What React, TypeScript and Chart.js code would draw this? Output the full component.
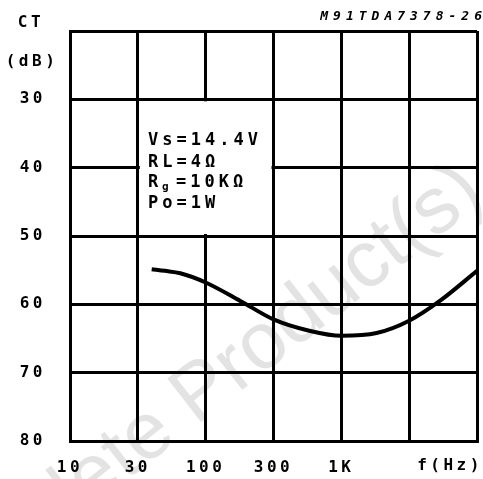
import React, { useEffect, useRef } from 'react';
import { Chart, registerables } from 'chart.js';

Chart.register(...registerables);

// Crosstalk vs frequency curve
const freqHz = [40, 50, 65, 100, 180, 316, 590, 1000, 1820, 3162, 5320, 10000];
const crosstalkDb = [54.85, 55.1, 55.45, 56.8, 59.5, 62.2, 63.9, 64.6, 64.2, 62.4, 59.5, 55.1];

// Axis ticks
const xTickValues = [10, 31.62, 100, 316.2, 1000, 3162, 10000];
const xTickLabels = ['10', '30', '100', '300', '1K', '', ''];
const yTickValues = [20, 30, 40, 50, 60, 70, 80];
const yTickLabels = ['', '30', '40', '50', '60', '70', '80'];

// Texts
const chartCode = 'M91TDA7378-26';
const yTitleLines = ['CT', '(dB)'];
const xTitle = 'f(Hz)';
const conditionLines = ['Vs=14.4V', 'RL=4Ω', 'R|g|=10KΩ', 'Po=1W'];
const watermark = ['Obsolete ', 'Product(s)'];

const MONO = '"DejaVu Sans Mono", monospace';

const overlayPlugin = {
  id: 'overlay',
  beforeDraw(chart: any) {
    const ctx = chart.ctx as CanvasRenderingContext2D;
    ctx.save();
    ctx.translate(196, 426);
    ctx.rotate((-38 * Math.PI) / 180);
    ctx.font = '80px "Liberation Sans", sans-serif';
    ctx.fillStyle = '#e3e3e3';
    ctx.textBaseline = 'alphabetic';
    ctx.textAlign = 'right';
    ctx.fillText(watermark[0], 0, 0);
    ctx.textAlign = 'left';
    ctx.fillText(watermark[1], 0, 0);
    ctx.restore();
    (ctx as any).letterSpacing = '3.5px';
  },
  afterDraw(chart: any) {
    const ctx = chart.ctx as CanvasRenderingContext2D;
    const xs = chart.scales.x;
    const ys = chart.scales.y;
    (ctx as any).letterSpacing = '0px';
    ctx.save();
    // condition box (blank the inner grid)
    const l = xs.getPixelForValue(xTickValues[1]) + 2;
    const r = xs.getPixelForValue(xTickValues[3]) - 2;
    const t = ys.getPixelForValue(30) + 2;
    const b = ys.getPixelForValue(50) - 2;
    ctx.fillStyle = '#ffffff';
    ctx.fillRect(l, t, r - l, b - t);

    ctx.fillStyle = '#000';
    ctx.textBaseline = 'alphabetic';
    ctx.textAlign = 'left';
    const sp = 4;
    (ctx as any).letterSpacing = sp + 'px';
    const bigFont = 'bold 17px ' + MONO;
    const smallFont = 'bold 11px ' + MONO;
    const x0 = 148;
    const baselines = [145, 167, 187, 208];
    conditionLines.forEach((line, i) => {
      const parts = line.split('|');
      if (parts.length === 3) {
        ctx.font = bigFont;
        ctx.fillText(parts[0], x0, baselines[i]);
        ctx.font = smallFont;
        (ctx as any).letterSpacing = '0px';
        ctx.fillText(parts[1], x0 + 14, baselines[i] + 3);
        (ctx as any).letterSpacing = sp + 'px';
        ctx.font = bigFont;
        ctx.fillText(parts[2], x0 + 28, baselines[i]);
      } else {
        ctx.font = bigFont;
        ctx.fillText(line, x0, baselines[i]);
      }
    });

    // axis titles
    (ctx as any).letterSpacing = '3.5px';
    ctx.font = 'bold 16px ' + MONO;
    ctx.textAlign = 'center';
    ctx.textBaseline = 'middle';
    ctx.fillText(yTitleLines[0], 31, 23);
    ctx.fillText(yTitleLines[1], 32, 62);
    ctx.fillText(xTitle, 450, 466);

    // chart code (italic)
    (ctx as any).letterSpacing = '5px';
    ctx.font = 'italic bold 13px ' + MONO;
    ctx.textAlign = 'right';
    ctx.fillText(chartCode, 487, 17);

    ctx.restore();
    (ctx as any).letterSpacing = '0px';
  },
};

export default function App() {
  const ref = useRef<HTMLCanvasElement | null>(null);
  useEffect(() => {
    if (!ref.current) return;
    const tickFont = { family: MONO, size: 16, weight: 'bold' as const };
    const chart = new Chart(ref.current, {
      type: 'line',
      data: {
        datasets: [
          {
            data: freqHz.map((f, i) => ({ x: f, y: crosstalkDb[i] })),
            borderColor: '#000',
            borderWidth: 4,
            pointRadius: 0,
            cubicInterpolationMode: 'monotone',
            fill: false,
          },
        ],
      },
      options: {
        animation: false,
        responsive: false,
        maintainAspectRatio: false,
        layout: { padding: { top: 31, right: 6, left: 0, bottom: 0 } },
        plugins: {
          legend: { display: false },
          tooltip: { enabled: false },
          title: { display: false },
        },
        scales: {
          x: {
            type: 'logarithmic',
            min: 10,
            max: 10000,
            afterBuildTicks: (s: any) => {
              s.ticks = xTickValues.map((v) => ({ value: v }));
            },
            afterFit: (s: any) => {
              s.height = 38;
              s.paddingLeft = 0;
              s.paddingRight = 0;
            },
            grid: { color: '#000', lineWidth: 3, drawTicks: false },
            border: { display: true, color: '#000', width: 3 },
            ticks: {
              autoSkip: false,
              maxRotation: 0,
              minRotation: 0,
              padding: 17,
              color: '#000',
              font: tickFont,
              callback: (_v: any, i: number) => xTickLabels[i],
            },
          },
          y: {
            type: 'linear',
            reverse: true,
            min: 20,
            max: 80,
            afterBuildTicks: (s: any) => {
              s.ticks = yTickValues.map((v) => ({ value: v }));
            },
            afterFit: (s: any) => {
              s.width = 70;
              s.paddingTop = 0;
              s.paddingBottom = 0;
            },
            grid: { color: '#000', lineWidth: 3, drawTicks: false },
            border: { display: true, color: '#000', width: 3 },
            ticks: {
              autoSkip: false,
              padding: 24,
              crossAlign: 'near',
              color: '#000',
              font: tickFont,
              callback: (_v: any, i: number) => yTickLabels[i],
            },
          },
        },
      },
      plugins: [overlayPlugin],
    });
    return () => chart.destroy();
  }, []);
  return (
    <div style={{ position: 'absolute', left: 0, top: 0, width: 483, height: 479, background: '#fff' }}>
      <canvas ref={ref} width={483} height={479} style={{ display: 'block' }} />
    </div>
  );
}
